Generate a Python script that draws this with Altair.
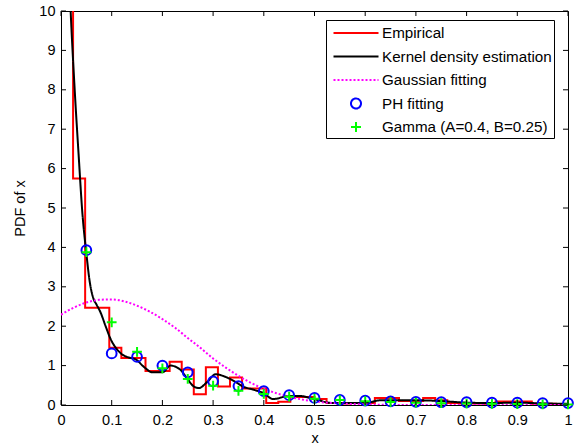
import altair as alt
import pandas as pd

# ---------------- data ----------------
series_names = ["Empirical", "Kernel density estimation", "Gaussian fitting",
                "PH fitting", "Gamma (A=0.4, B=0.25)"]
series_colors = ["#ff0000", "#000000", "#ff00ff", "#0000ff", "#00ff00"]

# Empirical histogram: 42 bins of width 1/42 on [0, 1]
emp_values = [30, 5.75, 2.47, 2.47, 1.45, 1.19, 1.19, 0.86, 0.86, 1.1, 0.9,
              0.27, 0.96, 0.47, 0.7, 0.42, 0.42, 0.05, 0.08, 0.2, 0.2, 0.15,
              0.05, 0.04, 0.05, 0.05, 0.18, 0.18, 0.1, 0.1, 0.18, 0.12, 0.05,
              0.04, 0.04, 0.03, 0.09, 0.09, 0.09, 0.03, 0.03, 0.02]
emp_edges = [i / 42 for i in range(43)]

# Kernel density estimation
kde_x = [0.0, 0.01, 0.019, 0.027, 0.035, 0.042, 0.05, 0.057, 0.064, 0.07,
         0.078, 0.088, 0.098, 0.11, 0.12, 0.135, 0.147, 0.165, 0.18, 0.2,
         0.216, 0.235, 0.25, 0.262, 0.272, 0.288, 0.305, 0.327, 0.345, 0.357,
         0.382, 0.4, 0.418, 0.45, 0.47, 0.5, 0.535, 0.6, 0.63, 0.7, 0.75,
         0.8, 0.85, 0.9, 0.95, 1.0]
kde_y = [16, 13, 10.0, 8.0, 6.3, 4.9, 3.85, 3.1, 2.7, 2.55,
         2.35, 2.0, 1.67, 1.42, 1.29, 1.2, 1.16, 0.95, 0.83, 0.83,
         1.0, 0.9, 0.65, 0.47, 0.43, 0.58, 0.78, 0.7, 0.58, 0.48,
         0.38, 0.3, 0.15, 0.23, 0.23, 0.15, 0.05, 0.05, 0.12, 0.12, 0.1,
         0.06, 0.05, 0.06, 0.04, 0.03]

# Gaussian fitting
gau_x = [0.0, 0.025, 0.05, 0.075, 0.1, 0.125, 0.15, 0.175, 0.2, 0.225, 0.25,
         0.275, 0.3, 0.325, 0.35, 0.375, 0.4, 0.425, 0.45, 0.475, 0.5, 0.55,
         0.6, 0.65, 0.7, 0.8, 0.9, 1.0]
gau_y = [2.29, 2.47, 2.6, 2.67, 2.68, 2.63, 2.52, 2.37, 2.18, 1.96, 1.70,
         1.45, 1.18, 0.95, 0.74, 0.56, 0.41, 0.30, 0.21, 0.14, 0.09, 0.04,
         0.015, 0.005, 0.0, 0.0, 0.0, 0.0]

# Markers at x = 0.05 ... 1.0
mark_x = [0.05, 0.1, 0.15, 0.2, 0.25, 0.3, 0.35, 0.4, 0.45, 0.5, 0.55, 0.6,
          0.65, 0.7, 0.75, 0.8, 0.85, 0.9, 0.95, 1.0]
ph_y = [3.93, 1.31, 1.22, 1.0, 0.83, 0.6, 0.48, 0.35, 0.25, 0.18, 0.13, 0.11,
        0.09, 0.08, 0.07, 0.07, 0.06, 0.06, 0.05, 0.05]
gamma_y = [3.88, 2.10, 1.35, 0.93, 0.66, 0.49, 0.36, 0.28, 0.21, 0.16, 0.125,
           0.097, 0.076, 0.059, 0.046, 0.037, 0.029, 0.023, 0.018, 0.014]

x_ticks = [0, 0.1, 0.2, 0.3, 0.4, 0.5, 0.6, 0.7, 0.8, 0.9, 1.0]
y_ticks = [0, 1, 2, 3, 4, 5, 6, 7, 8, 9, 10]

# ---------------- tables ----------------
emp_df = pd.DataFrame({"x": emp_edges, "y": emp_values + [emp_values[-1]],
                       "series": "Empirical"})
line_df = pd.concat([
    pd.DataFrame({"x": kde_x, "y": kde_y, "series": "Kernel density estimation"}),
    pd.DataFrame({"x": gau_x, "y": gau_y, "series": "Gaussian fitting"}),
])
pts_df = pd.concat([
    pd.DataFrame({"x": mark_x, "y": ph_y, "series": "PH fitting"}),
    pd.DataFrame({"x": mark_x, "y": gamma_y, "series": "Gamma (A=0.4, B=0.25)"}),
])
xt_df = pd.DataFrame({"x": x_ticks})
yt_df = pd.DataFrame({"y": y_ticks})

W, H = 507, 394
FONT = "Liberation Sans"
AFS = 14.5   # axis font size
LFS = 15.2   # legend font size

line_path = "M-2.25,0L2.25,0"
circle_path = "M0.5,0A0.5,0.5,0,1,1,-0.5,0A0.5,0.5,0,1,1,0.5,0Z"
cross_path = "M-0.5,0L0.5,0M0,-0.5L0,0.5"

xscale = alt.Scale(domain=[0, 1], nice=False, zero=False)
yscale = alt.Scale(domain=[0, 10], nice=False, zero=False)
xaxis = alt.Axis(values=x_ticks, format="~g", title="x", ticks=False, domain=False,
                 grid=False, labelFont=FONT, labelFontSize=AFS, labelColor="black",
                 labelPadding=8, labelFlush=False, titleFont=FONT, titleFontSize=AFS,
                 titleFontWeight="normal", titleColor="black", titleY=37,
                 titleBaseline="alphabetic")
yaxis = alt.Axis(values=y_ticks, format="d", title="PDF of x", ticks=False, domain=False,
                 grid=False, labelFont=FONT, labelFontSize=AFS, labelColor="black",
                 labelPadding=6, labelFlush=False, titleFont=FONT, titleFontSize=AFS,
                 titleFontWeight="normal", titleColor="black", titleX=-41, titleY=197,
                 titleAngle=270, titleAlign="center", titleBaseline="middle")

X = alt.X("x:Q", scale=xscale, axis=xaxis)
Y = alt.Y("y:Q", scale=yscale, axis=yaxis)

color = alt.Color("series:N", scale=alt.Scale(domain=series_names, range=series_colors),
                  legend=alt.Legend(title=None))
shape = alt.Shape("series:N", scale=alt.Scale(
    domain=series_names,
    range=[line_path, line_path, line_path, circle_path, cross_path]),
    legend=alt.Legend(title=None))
dash = alt.StrokeDash("series:N", scale=alt.Scale(
    domain=series_names, range=[[1, 0], [1, 0], [2, 2], [1, 0], [1, 0]]),
    legend=alt.Legend(title=None))

emp = alt.Chart(emp_df).mark_line(interpolate="step-after", strokeWidth=2,
                                  clip=True, opacity=1).encode(
    x=X, y=Y, color=color)

lines = alt.Chart(line_df).mark_line(interpolate="monotone", strokeWidth=2,
                                     clip=True, opacity=1).encode(
    x=X, y=Y, color=color, strokeDash=dash)

pts = alt.Chart(pts_df).mark_point(filled=False, size=380, strokeWidth=2,
                                   opacity=1).encode(
    x=X, y=Y, color=color, shape=shape)

tick_b = alt.Chart(xt_df).mark_rule(color="black", strokeWidth=1).encode(
    x=X, y=alt.value(H), y2=alt.value(H - 5))
tick_t = alt.Chart(xt_df).mark_rule(color="black", strokeWidth=1).encode(
    x=X, y=alt.value(0), y2=alt.value(5))
tick_l = alt.Chart(yt_df).mark_rule(color="black", strokeWidth=1).encode(
    y=Y, x=alt.value(0), x2=alt.value(5))
tick_r = alt.Chart(yt_df).mark_rule(color="black", strokeWidth=1).encode(
    y=Y, x=alt.value(W), x2=alt.value(W - 5))

chart = alt.layer(emp, lines, pts, tick_b, tick_t, tick_l, tick_r).properties(
    width=W, height=H,
    autosize=alt.AutoSizeParams(type="none"),
    padding={"left": 61, "top": 11, "right": 13, "bottom": 43},
    background="white",
).configure_view(
    stroke="black", strokeWidth=1
).configure_legend(
    orient="none", legendX=265, legendY=9, padding=2,
    strokeColor="black", fillColor="white", cornerRadius=0,
    labelFont=FONT, labelFontSize=LFS, labelColor="black",
    symbolSize=400, symbolStrokeWidth=2, symbolOffset=17, labelOffset=15,
    rowPadding=3.5, labelLimit=400,
)

chart.save("out.html", embed_options={"renderer": "svg", "actions": False})
